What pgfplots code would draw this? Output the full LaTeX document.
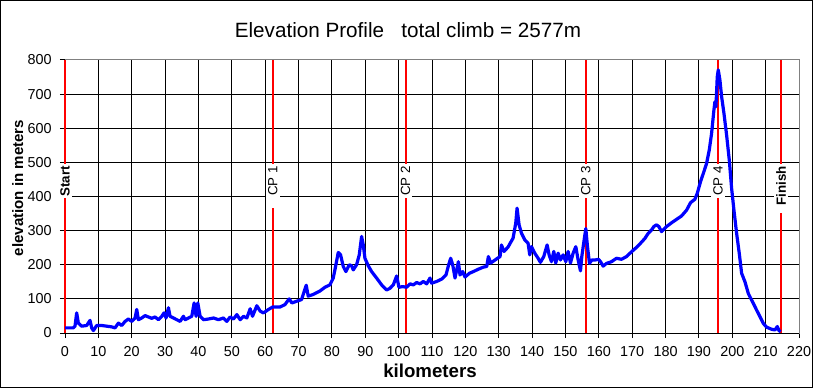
\documentclass[border=0pt]{standalone}
\usepackage{pgfplots}
\pgfplotsset{compat=1.18}
\usepackage{pgfplotstable}
\usepackage{fontspec}
\setmainfont{Liberation Sans}
\pgfplotstableread{
km m
0 15
2.5 15
3.0 20
3.5 59
4.0 29
5 20
6.5 22
7.5 37
8 15
8.5 7
9.5 22
11 22
12.5 20
14 18
15 15
16 29
17 22
18 34
19 41
20 34
21 44
21.5 69
22 39
23 44
24 51
25 47
26 43
27 47
28 39
29 49
29.7 59
30.3 44
31 74
31.5 49
32.5 44
33.5 39
34.5 34
35.5 49
36 39
37 44
38 49
38.7 88
39.3 49
39.8 88
40.5 49
41.5 39
43 41
44.5 44
46 39
47.5 44
48.5 34
49.5 47
50.5 41
51.5 54
52.5 39
53.5 49
54.5 44
55.5 71
56.2 49
57.5 80
58.5 64
59.5 59
61 69
62.2 76
63.4 76
64.4 76
65.9 83
67.2 100
68 88
69.4 93
70.9 98
72.3 140
72.9 108
74.4 113
76.4 123
77.9 134
79.4 141
80.4 161
81.1 195
81.9 236
82.6 229
83.4 195
84.2 180
85.2 200
85.9 197
86.4 185
87.4 200
88.2 229
88.9 283
89.4 258
89.9 219
90.9 197
91.9 180
93.4 161
94.9 141
96.4 126
97.4 131
98.4 141
99.4 167
100.1 134
101.2 136
102.4 134
103.4 144
104.4 141
105.4 148
106.4 144
107.4 151
108.4 144
109.4 161
109.9 146
111.4 151
112.9 158
114.2 170
114.9 197
115.6 219
116.2 200
116.9 161
117.4 185
117.9 209
118.4 170
119.2 180
119.9 164
121.2 175
122.4 180
123.9 187
125.4 193
126.4 195
126.9 224
127.6 205
128.9 214
130.4 224
130.8 258
131.6 239
132.8 252
134.3 278
135.1 322
135.5 366
136.1 317
136.8 293
137.8 273
138.8 263
139.3 229
139.8 253
140.8 234
141.8 219
142.5 207
143.5 224
144.5 258
145.1 229
145.8 209
146.5 239
147.1 205
147.8 234
148.5 214
149.3 229
150.1 209
150.8 239
151.5 205
152.3 234
153.1 253
153.8 214
154.5 182
154.9 224
155.6 273
156.1 306
156.6 253
157.2 204
157.9 214
158.9 214
159.9 216
160.5 209
161.3 196
162.3 204
163.8 209
165.3 219
166.8 216
168.3 224
169.8 238
171.3 251
172.5 263
173.8 277
174.8 292
175.8 302
176.5 312
177.3 317
178.0 312
178.8 297
180.3 312
181.8 323
183.3 333
184.8 343
186.3 360
187.5 382
188.8 392
189.5 409
190.5 444
191.5 473
192.3 497
193.1 536
193.8 585
194.5 654
194.8 678
195.1 663
195.5 751
195.8 771
196.3 741
196.8 693
197.5 644
198.3 580
199.1 507
199.8 424
200.5 360
201.3 292
202.1 233
202.8 175
203.8 150
204.8 116
205.3 106
206.3 87
207.3 67
208.3 48
209.3 28
210.3 17
211.8 11
212.8 9
213.5 19
214.0 7
214.5 4
}\profile
\begin{document}
\begin{tikzpicture}
\useasboundingbox[fill=white] (-48.75pt,-42pt) rectangle (563.25pt,249.75pt);
\begin{axis}[
  at={(0,0)}, anchor=south west,
  scale only axis, width=550.5pt, height=204.75pt,
  xmin=0, xmax=220, ymin=0, ymax=800,
  clip=false,
  xtick={0,10,...,220}, ytick={0,100,...,800},
  xtick pos=left, ytick pos=left,
  grid=major, major grid style={black, line width=0.75pt},
  axis line style={gray, line width=0.75pt},
  tick align=outside, major tick length=3.75pt,
  tick style={black, line width=0.75pt},
  /pgf/number format/assume math mode=true,
  ticklabel style={font=\fontsize{10.8}{12}\selectfont},
  xticklabel style={yshift=-3pt},
  yticklabel style={xshift=-2.75pt},
  xlabel={kilometers}, ylabel={elevation in meters},
  xlabel style={font=\bfseries\fontsize{14}{16}\selectfont, at={(axis description cs:0.4973,-0.1612)}, anchor=base},
  ylabel style={font=\bfseries\fontsize{11.3}{13}\selectfont, at={(axis description cs:-0.0572,0.531)}, anchor=base},
  every axis title shift=0pt,
  title={Elevation Profile\ \ \ total climb = 2577m},
  title style={font=\fontsize{15.5}{18}\selectfont, at={(axis description cs:0.4673,1.0832)}, anchor=base},
]
\addplot[red, line width=1.5pt] coordinates {(0,0) (0,800)};
\addplot[red, line width=1.5pt] coordinates {(62.3,0) (62.3,800)};
\addplot[red, line width=1.5pt] coordinates {(102.1,0) (102.1,800)};
\addplot[red, line width=1.5pt] coordinates {(156.1,0) (156.1,800)};
\addplot[red, line width=1.5pt] coordinates {(195.7,0) (195.7,800)};
\addplot[red, line width=1.5pt] coordinates {(214.6,0) (214.6,800)};
\addplot[blue, line width=2.4pt, line join=round] table[x=km, y=m] {\profile};
\draw[black, line width=0.75pt] (rel axis cs:0,0) -- (rel axis cs:1,0);
\begin{scope}[every node/.style={rotate=90, anchor=east, fill=white, inner sep=1.5pt, font=\fontsize{10}{12}\selectfont}]
\node[font=\bfseries\fontsize{10}{12}\selectfont] at (axis cs:0,496) {Start};
\node at (axis cs:62.3,496) {\hspace*{7.5pt}CP 1};
\node at (axis cs:102.1,496) {CP 2};
\node at (axis cs:156.1,496) {CP 3};
\node at (axis cs:195.7,496) {CP 4};
\node[font=\bfseries\fontsize{10}{12}\selectfont] at (axis cs:214.6,496) {\hspace*{4.5pt}Finish};
\end{scope}
\end{axis}
\draw[black, line width=0.75pt] (-48.375pt,-40.875pt) rectangle (560.25pt,249.375pt);
\end{tikzpicture}
\end{document}
